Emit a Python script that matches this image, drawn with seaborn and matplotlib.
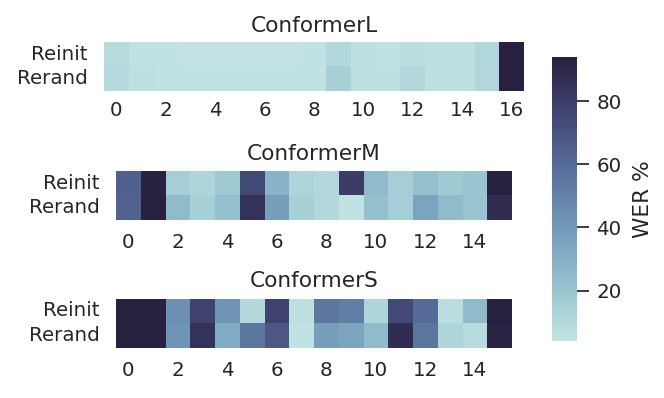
import numpy as np
import pandas as pd
import matplotlib
matplotlib.use("Agg")
import matplotlib.pyplot as plt
import seaborn as sns

rows = ["Reinit", "Rerand"]

L_reinit = [8, 5, 5, 4, 4, 4, 4, 4, 5, 10, 6, 5, 7, 6, 6, 11, 94]
L_rerand = [9, 6, 5, 5, 5, 5, 5, 5, 5, 14, 6, 6, 10, 6, 6, 11, 94]

M_reinit = [65, 93, 15, 12, 18, 75, 28, 12, 10, 80, 25, 15, 22, 18, 20, 93]
M_rerand = [64, 94, 25, 14, 22, 85, 38, 14, 10, 5, 22, 15, 35, 25, 20, 88]

S_reinit = [94, 94, 45, 78, 42, 10, 78, 6, 55, 52, 12, 75, 60, 7, 25, 94]
S_rerand = [94, 94, 42, 85, 32, 55, 68, 5, 38, 35, 25, 88, 55, 12, 8, 92]

titles = ["ConformerL", "ConformerM", "ConformerS"]
series = [(L_reinit, L_rerand), (M_reinit, M_rerand), (S_reinit, S_rerand)]

sns.set_theme(style="white", font_scale=1.3)
plt.rcParams["font.family"] = ["DejaVu Sans"]

cmap = sns.cubehelix_palette(start=.2, rot=-.3, as_cmap=True)

W, H = 664, 398
fig = plt.figure(figsize=(W / 100, H / 100), dpi=100)

boxes = [
    (104, 42, 420, 49),
    (116, 171, 396, 49),
    (116, 298.5, 396, 49),
]
cax = fig.add_axes([552 / W, 1 - 341 / H, 25 / W, 284 / H])

allvals = np.concatenate([np.r_[a, b] for a, b in series])
vmin, vmax = allvals.min(), allvals.max()

for i, ((x, y, w, h), title, (a, b)) in enumerate(zip(boxes, titles, series)):
    ax = fig.add_axes([x / W, 1 - (y + h) / H, w / W, h / H])
    df = pd.DataFrame([a, b], index=rows, columns=range(len(a)))
    first = i == 0
    sns.heatmap(df, ax=ax, cmap=cmap, vmin=vmin, vmax=vmax,
                cbar=first, cbar_ax=cax if first else None,
                cbar_kws={"label": "WER %"}, xticklabels=2, yticklabels=rows)
    ax.set_title(title, pad=7 if first else 8)
    ax.tick_params(axis="x", length=0, pad=7.5 if first else 9.5, rotation=0)
    ax.tick_params(axis="y", length=0, pad=12, rotation=0)

cax.tick_params(axis="y", length=8.5, width=1.25, pad=5.5, right=True, color="#262626")
cax.set_yticks([20, 40, 60, 80])
cax.yaxis.labelpad = 8

fig.savefig("out.png", dpi=100)
